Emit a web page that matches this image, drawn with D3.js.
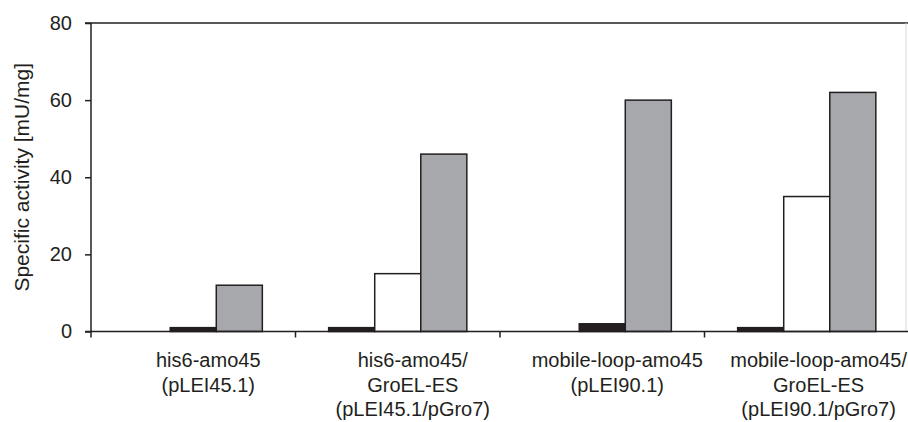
<!doctype html>
<html>
<head>
  <meta charset="UTF-8">
  <title>Specific activity</title>
  <style>
    body { margin: 0; background: #fff; }
    svg { display: block; }
  </style>
</head>
<body>
  <div id="chart"></div>
  <script src="https://cdn.jsdelivr.net/npm/d3@7"></script>
  <script>
    // categories, each label split into its lines
    var categories = ["his6-amo45", "his6-amo45/GroEL-ES", "mobile-loop-amo45", "mobile-loop-amo45/GroEL-ES"];
    var categoryLines = [
      ["his6-amo45", "(pLEI45.1)"],
      ["his6-amo45/", "GroEL-ES", "(pLEI45.1/pGro7)"],
      ["mobile-loop-amo45", "(pLEI90.1)"],
      ["mobile-loop-amo45/", "GroEL-ES", "(pLEI90.1/pGro7)"]
    ];
    // series values (null = no bar in that group)
    var blackValues = [1, 1, 2, 1];
    var whiteValues = [null, 15, null, 35];
    var grayValues = [12, 46, 60, 62];
    var yTicks = [0, 20, 40, 60, 80];

    var series = [
      { key: "black", fill: "#231f20", values: blackValues },
      { key: "white", fill: "#ffffff", values: whiteValues },
      { key: "gray", fill: "#a7a8ac", values: grayValues }
    ];

    var W = 908, H = 422;
    var margin = { top: 23, right: -1, bottom: 91, left: 91 };
    var ink = "#231f20";

    var svg = d3.select("#chart").append("svg")
      .attr("width", W)
      .attr("height", H)
      .style("font-family", "'Liberation Sans', Arial, sans-serif");

    var x0 = d3.scaleBand()
      .domain(categories)
      .range([margin.left, W - margin.right])
      .padding(0);

    var slots = d3.scaleBand()
      .domain([0, 1, 2])
      .range([0, x0.bandwidth()])
      .paddingInner(0)
      .paddingOuter(0.72);

    var y = d3.scaleLinear()
      .domain([0, 80])
      .range([H - margin.bottom + 0.5, margin.top]);

    // bars: the bars present in a group are packed to the right slots
    var bars = [];
    categories.forEach(function(c, i) {
      var present = series.filter(function(s) { return s.values[i] != null; });
      present.forEach(function(s, k) {
        bars.push({ cat: c, slot: 3 - present.length + k, value: s.values[i], fill: s.fill });
      });
    });

    svg.append("g")
      .selectAll("rect")
      .data(bars)
      .join("rect")
      .attr("x", function(d) { return x0(d.cat) + slots(d.slot); })
      .attr("y", function(d) { return y(d.value); })
      .attr("width", slots.bandwidth())
      .attr("height", function(d) { return y(0) - y(d.value); })
      .attr("fill", function(d) { return d.fill; })
      .attr("stroke", ink)
      .attr("stroke-width", 1.5);

    // frame top and faint right edge
    svg.append("line")
      .attr("x1", margin.left - 6).attr("x2", W)
      .attr("y1", y(80)).attr("y2", y(80))
      .attr("stroke", ink).attr("stroke-width", 1.5);
    svg.append("line")
      .attr("x1", W - 2).attr("x2", W - 2)
      .attr("y1", y(80)).attr("y2", y(0))
      .attr("stroke", "#d8d8d8").attr("stroke-width", 1);

    // y axis
    var yAxis = svg.append("g")
      .attr("transform", "translate(" + margin.left + ",0)")
      .call(d3.axisLeft(y).tickValues(yTicks).tickSize(6).tickPadding(13).tickSizeOuter(0));
    yAxis.select(".domain").remove();
    yAxis.selectAll(".tick line").attr("stroke", ink).attr("stroke-width", 1.5);
    yAxis.selectAll(".tick text")
      .attr("fill", ink)
      .style("font-size", "20px");
    svg.append("line")
      .attr("x1", margin.left).attr("x2", margin.left)
      .attr("y1", y(80)).attr("y2", y(0) + 6)
      .attr("stroke", ink).attr("stroke-width", 1.5);

    // x axis line and group boundary ticks
    svg.append("line")
      .attr("x1", margin.left - 6).attr("x2", W)
      .attr("y1", y(0)).attr("y2", y(0))
      .attr("stroke", ink).attr("stroke-width", 1.5);
    svg.append("g")
      .selectAll("line")
      .data(categories.slice(1))
      .join("line")
      .attr("x1", function(d) { return x0(d); })
      .attr("x2", function(d) { return x0(d); })
      .attr("y1", y(0)).attr("y2", y(0) + 6)
      .attr("stroke", ink).attr("stroke-width", 1.5);

    // category labels, nudged right of the group centre but kept inside the page
    var labels = svg.append("g")
      .selectAll("text")
      .data(categories)
      .join("text")
      .attr("text-anchor", "middle")
      .attr("fill", ink)
      .style("font-size", "20px");
    labels.selectAll("tspan")
      .data(function(d, i) { return categoryLines[i]; })
      .join("tspan")
      .attr("x", 0)
      .attr("y", function(d, j) { return j * 24.5; })
      .text(function(d) { return d; });
    labels.attr("transform", function(d) {
      var widest = d3.max(d3.select(this).selectAll("tspan").nodes(), function(n) { return n.getComputedTextLength(); });
      var cx = Math.min(x0(d) + x0.bandwidth() / 2 + 15, W - 1 - widest / 2);
      return "translate(" + cx + ",367)";
    });

    // y title
    svg.append("text")
      .attr("transform", "translate(29," + ((y(0) + y(80)) / 2) + ") rotate(-90)")
      .attr("text-anchor", "middle")
      .attr("fill", ink)
      .style("font-size", "21px")
      .text("Specific activity [mU/mg]");
  </script>
</body>
</html>
